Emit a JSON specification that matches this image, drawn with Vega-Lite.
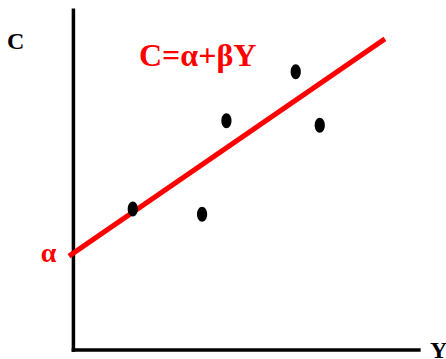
{
  "$schema": "https://vega.github.io/schema/vega-lite/v6.json",
  "width": 446,
  "height": 359,
  "padding": 0,
  "autosize": {"type": "none"},
  "background": "white",
  "config": {"view": {"stroke": null}},
  "layer": [
    {
      "data": {"values": [
        {"Y": 0, "C": 0, "Y2": 0, "C2": 9.71},
        {"Y": 0, "C": 0, "Y2": 10.07, "C2": 0}
      ]},
      "mark": {"type": "rule", "color": "black", "strokeWidth": 3.5, "strokeCap": "square"},
      "encoding": {
        "x": {"field": "Y", "type": "quantitative", "scale": {"domain": [-2.14, 10.86], "nice": false, "zero": false}, "axis": null},
        "y": {"field": "C", "type": "quantitative", "scale": {"domain": [-0.26, 10.0], "nice": false, "zero": false}, "axis": null},
        "x2": {"field": "Y2"},
        "y2": {"field": "C2"}
      }
    },
    {
      "data": {"values": [
        {"Y": -0.13, "C": 2.68, "Y2": 9.08, "C2": 8.89}
      ]},
      "mark": {"type": "rule", "color": "#ff0000", "strokeWidth": 5},
      "encoding": {
        "x": {"field": "Y", "type": "quantitative"},
        "y": {"field": "C", "type": "quantitative"},
        "x2": {"field": "Y2"},
        "y2": {"field": "C2"}
      }
    },
    {
      "data": {"values": [
        {"Y": 1.73, "C": 4.03},
        {"Y": 3.75, "C": 3.88},
        {"Y": 4.46, "C": 6.55},
        {"Y": 6.48, "C": 7.95},
        {"Y": 7.18, "C": 6.42}
      ]},
      "mark": {"type": "point", "filled": true, "color": "black", "opacity": 1, "size": 225, "shape": "M -0.68 0 A 0.68 1 0 1 0 0.68 0 A 0.68 1 0 1 0 -0.68 0 Z"},
      "encoding": {
        "x": {"field": "Y", "type": "quantitative"},
        "y": {"field": "C", "type": "quantitative"}
      }
    },
    {
      "data": {"values": [
        {"Y": 1.91, "C": 8.12, "label": "C=α+βY", "color": "red", "size": 32},
        {"Y": -0.95, "C": 2.52, "label": "α", "color": "red", "size": 28},
        {"Y": -1.935, "C": 8.6, "label": "C", "color": "black", "size": 24},
        {"Y": 10.39, "C": -0.22, "label": "Y", "color": "black", "size": 24}
      ]},
      "mark": {"type": "text", "align": "left", "baseline": "alphabetic", "font": "Liberation Serif", "fontWeight": "bold"},
      "encoding": {
        "x": {"field": "Y", "type": "quantitative"},
        "y": {"field": "C", "type": "quantitative"},
        "text": {"field": "label"},
        "size": {"field": "size", "type": "quantitative", "scale": null, "legend": null},
        "color": {"field": "color", "type": "nominal", "scale": {"domain": ["red", "black"], "range": ["#ff0000", "#000000"]}, "legend": null}
      }
    }
  ]
}
